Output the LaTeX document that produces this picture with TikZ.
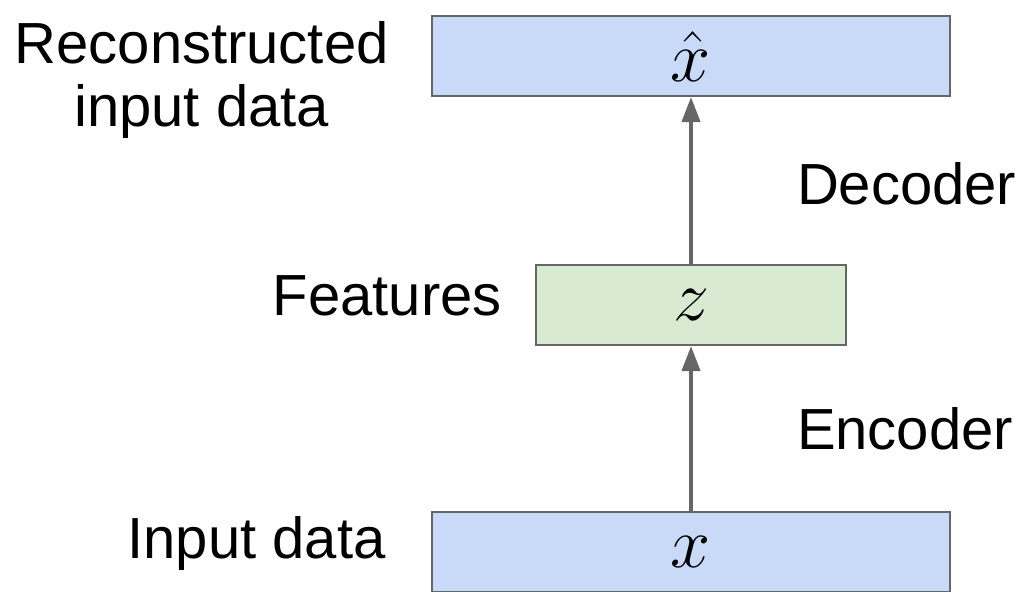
\RequirePackage{fix-cm}
\documentclass[tikz,border=0pt]{standalone}
\usepackage{fontspec}
\setmainfont{Liberation Sans}
\usepackage{amsmath}
\usepackage{tikz}
\usetikzlibrary{shapes,arrows,arrows.meta}
\usetikzlibrary{positioning}
\definecolor{boxblue}{HTML}{C9DAF8}
\definecolor{boxgreen}{HTML}{D9EAD3}
\definecolor{edgegray}{HTML}{666666}
\tikzstyle{layer} = [rectangle, draw=edgegray, line width=1pt, fill=boxblue,
    minimum width=259pt, minimum height=40pt, inner sep=0pt, font=\fontsize{36}{40}\selectfont]
\tikzstyle{code} = [layer, fill=boxgreen, minimum width=155pt]
\tikzstyle{tag} = [inner sep=0pt, align=center, font=\fontsize{29}{31.5}\selectfont]
\tikzstyle{line} = [draw=edgegray, line width=2pt, -{Triangle[length=12.5pt,width=9pt]}]

\begin{document}
\begin{tikzpicture}
    \useasboundingbox (0,0) rectangle (510pt,295.5pt);
    % Place nodes
    \node [layer] (x) at (345.5pt,19.5pt) {$x$};
    \node [code, above=82.5pt of x] (z) {$z$};
    \node [layer, above=83.5pt of z] (xhat) {$\hat{x}$};
    \node [tag, left=22.5pt of x, yshift=4.5pt] (inlabel) {Input data};
    \node [tag, left=16.5pt of z, yshift=4.5pt] (featlabel) {Features};
    \node [tag, left=21pt of xhat, yshift=-12pt] (outlabel) {Reconstructed\\input data};
    % Draw edges
    \path [line] (x) -- (z) node [tag, midway, right=52pt] (enc) {Encoder};
    \path [line] (z) -- (xhat) node [tag, midway, right=52pt, yshift=-1.5pt] (dec) {Decoder};
\end{tikzpicture}
\end{document}
